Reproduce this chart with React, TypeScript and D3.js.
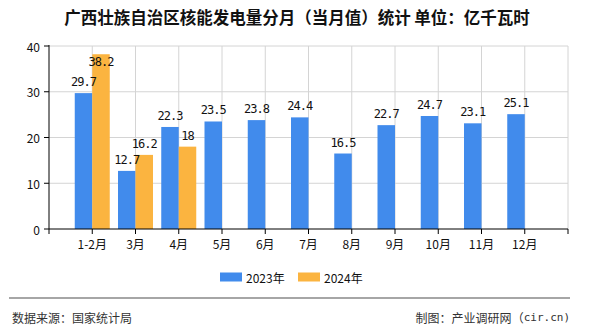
import React from "react";
import * as d3 from "d3";

const categories = ["1-2月", "3月", "4月", "5月", "6月", "7月", "8月", "9月", "10月", "11月", "12月"];
const values2023: (number | null)[] = [29.7, 12.7, 22.3, 23.5, 23.8, 24.4, 16.5, 22.7, 24.7, 23.1, 25.1];
const values2024: (number | null)[] = [38.2, 16.2, 18, null, null, null, null, null, null, null, null];
const yTicks = [0, 10, 20, 30, 40];
const seriesNames = ["2023年", "2024年"];
const colors = ["#418bec", "#fbb440"];

const W = 590, H = 330;
const left = 49, right = 568, top = 46, bottom = 229;
const font = "'Noto Sans CJK SC', 'Noto Sans', sans-serif";
const mono = "'DejaVu Sans Mono', monospace";

export default function App() {
  const x = d3.scalePoint<string>().domain(categories).range([left, right]).padding(1);
  const step = x.step();
  const y = d3.scaleLinear().domain([0, 40]).range([bottom, top]);
  const bw = 17.5;
  const boundaries = d3.range(0, categories.length + 2).map((k) => left + k * step);
  const series = [values2023, values2024];

  const label = (v: number) => {
    const t = y(v);
    let ly = t - 11;
    if (ly < top + 8) ly = t + 8;
    return ly;
  };

  return (
    <svg width={W} height={H} style={{ position: "absolute", left: 0, top: 0, fontFamily: font }}>
      <rect width={W} height={H} fill="#fff" />
      <text x={W / 2 + 2} y={17} textAnchor="middle" dominantBaseline="central" fontSize={16.5} fontWeight="bold" fill="#111">
        广西壮族自治区核能发电量分月（当月值）统计 单位：亿千瓦时
      </text>
      {/* grid */}
      {yTicks.filter((t) => t > 0).map((t) => (
        <line key={"h" + t} x1={left} x2={right} y1={y(t)} y2={y(t)} stroke="#d4d4d4" />
      ))}
      {boundaries.slice(1).map((bx, i) => (
        <line key={"v" + i} x1={bx} x2={bx} y1={top} y2={bottom} stroke="#d4d4d4" />
      ))}
      {/* bars */}
      {categories.map((c, i) =>
        series.map((s, si) => {
          const v = s[i];
          if (v == null) return null;
          const cx = x(c)!;
          const x0 = si === 0 ? cx - bw : cx;
          return <rect key={c + si} x={x0} y={y(v)} width={bw} height={bottom - y(v)} fill={colors[si]} />;
        })
      )}
      {/* labels */}
      {categories.map((c, i) =>
        series.map((s, si) => {
          const v = s[i];
          if (v == null) return null;
          const cx = x(c)! + (si === 0 ? -bw / 2 : bw / 2);
          return (
            <text key={"l" + c + si} x={cx} y={label(v)} textAnchor="middle" dominantBaseline="central" fontSize={12} fill="#111" fontFamily={mono} letterSpacing={-1}>
              {String(v)}
            </text>
          );
        })
      )}
      {/* axes */}
      <line x1={left} x2={left} y1={top - 1} y2={bottom} stroke="#000" />
      <line x1={left} x2={right} y1={bottom} y2={bottom} stroke="#000" />
      {yTicks.map((t) => (
        <g key={"yt" + t}>
          <line x1={left - 5} x2={left} y1={y(t)} y2={y(t)} stroke="#000" />
          <text x={left - 9} y={y(t)} textAnchor="end" dominantBaseline="central" fontSize={12} fill="#111">
            {t}
          </text>
        </g>
      ))}
      {boundaries.map((bx, i) => (
        <line key={"xt" + i} x1={bx} x2={bx} y1={bottom} y2={bottom + 5} stroke="#000" />
      ))}
      {categories.map((c) => (
        <text key={"xl" + c} x={x(c)!} y={243} textAnchor="middle" dominantBaseline="central" fontSize={12} fill="#111">
          {c}
        </text>
      ))}
      {/* legend */}
      {seriesNames.map((n, i) => (
        <g key={n} transform={`translate(${220 + i * 78},0)`}>
          <rect x={0} y={272.5} width={22} height={9} fill={colors[i]} />
          <text x={26} y={277} dominantBaseline="central" fontSize={12} fill="#111">
            {n}
          </text>
        </g>
      ))}
      {/* footer */}
      <line x1={9} x2={570} y1={298} y2={298} stroke="#888" strokeWidth={1.5} />
      <text x={12} y={317} dominantBaseline="central" fontSize={12} fill="#333">
        数据来源：国家统计局
      </text>
      <text x={570} y={317} textAnchor="end" dominantBaseline="central" fontSize={12} fill="#333">
        制图：产业调研网<tspan>（</tspan><tspan fontFamily={mono} fontSize={11}>cir.cn)</tspan>
      </text>
    </svg>
  );
}
